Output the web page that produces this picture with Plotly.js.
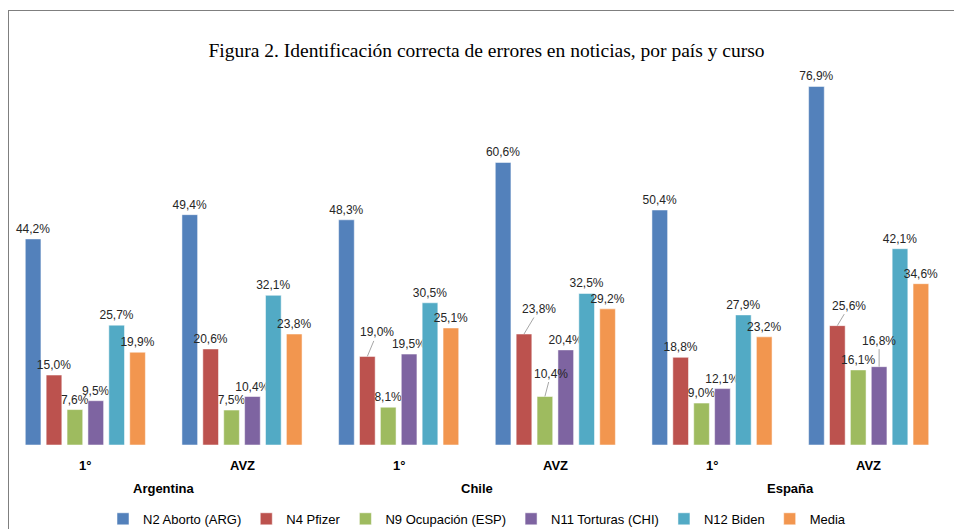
<!DOCTYPE html>
<html>
<head>
<meta charset="utf-8">
<script src="https://cdn.plot.ly/plotly-3.0.1.min.js"></script>
<style>
html,body{margin:0;padding:0;background:#fff;}
#wrap{position:relative;width:954px;height:529px;overflow:hidden;}
#chart{width:954px;height:529px;}
#frame{position:absolute;left:8px;top:10px;right:-2px;bottom:-2px;border-left:1.5px solid #7f7f7f;border-top:1.5px solid #7f7f7f;pointer-events:none;}
</style>
</head>
<body>
<div id="wrap"><div id="chart"></div><div id="frame"></div></div>
<script>
var countries = ["Argentina","Argentina","Chile","Chile","España","España"];
var courses = ["1°","AVZ","1°","AVZ","1°","AVZ"];
var countryNames = ["Argentina","Chile","España"];
var seriesNames = ["N2 Aborto (ARG)","N4 Pfizer","N9 Ocupación (ESP)","N11 Torturas (CHI)","N12 Biden","Media"];
var n2 = [44.2, 49.4, 48.3, 60.6, 50.4, 76.9];
var n4 = [15.0, 20.6, 19.0, 23.8, 18.8, 25.6];
var n9 = [7.6, 7.5, 8.1, 10.4, 9.0, 16.1];
var n11 = [9.5, 10.4, 19.5, 20.4, 12.1, 16.8];
var n12 = [25.7, 32.1, 30.5, 32.5, 27.9, 42.1];
var media = [19.9, 23.8, 25.1, 29.2, 23.2, 34.6];
var colors = ["#5381BB","#BC524E","#9EBB5F","#7E64A1","#52AAC5","#F2964F"];
var allSeries = [n2, n4, n9, n11, n12, media];

// labels drawn with leader lines: [seriesIndex, categoryIndex, dx, dy]
var leaderLabels = [[1,2,10,-24],[1,3,15,-25],[2,3,6,-23],[1,5,12,-20],[3,5,0,-26]];

var bargap = 0.2, nSeries = allSeries.length;
function isLeader(s, c){
  return leaderLabels.some(function(l){ return l[0]===s && l[1]===c; });
}
var labelFont = {family: "Liberation Sans, Arial, sans-serif", size: 12, color: "#262626"};
var tickFont = {family: "Liberation Sans, Arial, sans-serif", size: 13, color: "#000", weight: "bold"};

var traces = allSeries.map(function(vals, i){
  return {
    type: "bar",
    name: seriesNames[i],
    x: [countries, courses],
    y: vals,
    marker: {color: colors[i], line: {color: "rgba(255,255,255,0.5)", width: 1}},
    texttemplate: vals.map(function(v, c){ return isLeader(i, c) ? "" : "%{y:.1f}%"; }),
    textposition: "outside",
    constraintext: "none",
    cliponaxis: false,
    textfont: labelFont,
    hoverinfo: "none"
  };
});

function fmt(v){ return v.toFixed(1).replace(".", ",") + "%"; }
var slot = (1 - bargap) / nSeries;
var annotations = leaderLabels.map(function(l){
  var s = l[0], c = l[1];
  return {
    xref: "x", yref: "y",
    x: c - (1 - bargap) / 2 + slot * (s + 0.5),
    y: allSeries[s][c],
    text: fmt(allSeries[s][c]),
    showarrow: true, arrowhead: 0, arrowwidth: 1, arrowcolor: "#a6a6a6",
    standoff: 0, startstandoff: 0,
    ax: l[2], ay: l[3],
    font: labelFont
  };
});
// category tick labels (course) and group labels (country)
courses.forEach(function(t, c){
  annotations.push({xref: "x", yref: "paper", x: c, y: 0, yshift: -20,
    xanchor: "center", yanchor: "middle", showarrow: false, text: t, font: tickFont});
});
countryNames.forEach(function(t, g){
  annotations.push({xref: "x", yref: "paper", x: 2 * g + 0.5, y: 0, yshift: -43,
    xanchor: "center", yanchor: "middle", showarrow: false, text: t, font: tickFont});
});

var layout = {
  width: 954, height: 529,
  margin: {l: 7, r: 7, t: 72, b: 84, autoexpand: false},
  paper_bgcolor: "#ffffff",
  plot_bgcolor: "#ffffff",
  separators: ",.",
  barmode: "group",
  bargap: bargap,
  bargroupgap: 0.25,
  title: {
    text: "Figura 2. Identificación correcta de errores en noticias, por país y curso",
    font: {family: "Liberation Serif, DejaVu Serif, serif", size: 19.5, color: "#000"},
    x: 0.51, xanchor: "center", y: 0.905, yanchor: "middle"
  },
  xaxis: {
    type: "multicategory",
    showdividers: false,
    showline: false,
    showticklabels: false,
    ticks: "",
    showgrid: false,
    zeroline: false
  },
  yaxis: {
    range: [0, 80],
    visible: false,
    showgrid: false,
    zeroline: false
  },
  annotations: annotations,
  showlegend: true,
  legend: {
    orientation: "h",
    x: 0.5, xanchor: "center",
    y: -0.198, yanchor: "middle",
    font: {family: "Liberation Sans, Arial, sans-serif", size: 13, color: "#000"},
    itemwidth: 30,
    traceorder: "normal"
  }
};

Plotly.newPlot("chart", traces, layout, {displayModeBar: false, staticPlot: true});
</script>
</body>
</html>
